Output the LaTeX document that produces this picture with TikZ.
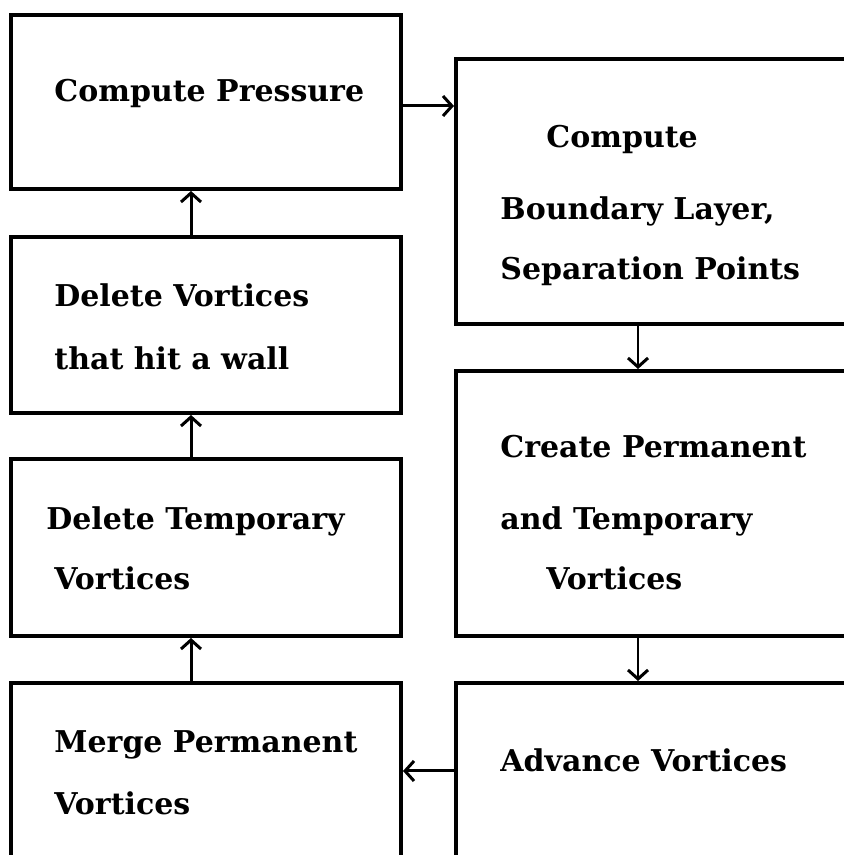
\documentclass[tikz,border=0pt]{standalone}
\usepackage{fontspec}
\setmainfont{DejaVu Serif}
\usetikzlibrary{arrows.meta}
\tikzset{
  box/.style={draw, line width=2pt, inner sep=0pt},
  txt/.style={anchor=base west, inner sep=0pt, font=\bfseries\fontsize{15}{15}\selectfont},
  flow/.style={line width=1.5pt, -{Straight Barb[length=4.5pt,width=10pt,line width=1.5pt]}},
  thinflow/.style={line width=1pt, -{Straight Barb[length=4.5pt,width=10pt,line width=1.5pt]}}
}

\begin{document}
\begin{tikzpicture}[x=0.5pt,y=0.5pt]
\useasboundingbox (0,0) rectangle (844,855);
\clip (0,0) rectangle (844,855);
% left column
\node[box, minimum width=195pt, minimum height=87pt] (press) at (206,753) {};
\node[box, minimum width=195pt, minimum height=88pt] (wall) at (206,530) {};
\node[box, minimum width=195pt, minimum height=88.5pt] (temp) at (206,307.5) {};
\node[box, minimum width=195pt, minimum height=122pt] (merge) at (206,50) {};
% right column
\node[box, minimum width=272pt, minimum height=132.5pt] (bound) at (728,663.5) {};
\node[box, minimum width=272pt, minimum height=132.5pt] (create) at (728,351.5) {};
\node[box, minimum width=272pt, minimum height=122pt] (advance) at (728,50) {};
% labels
\node[txt] (tpress) at (54,753) {Compute Pressure};
\node[txt] (tbound1) at (546,707) {Compute};
\node[txt] (tbound2) at (500,635) {Boundary Layer,};
\node[txt] (tbound3) at (500,575) {Separation Points};
\node[txt] (twall1) at (54,548) {Delete Vortices};
\node[txt] (twall2) at (54,485) {that hit a wall};
\node[txt] (tcreate1) at (500,397) {Create Permanent};
\node[txt] (tcreate2) at (500,325) {and Temporary};
\node[txt] (tcreate3) at (546,265) {Vortices};
\node[txt] (ttemp1) at (46,325) {Delete Temporary};
\node[txt] (ttemp2) at (54,265) {Vortices};
\node[txt] (tmerge1) at (54,102) {Merge Permanent};
\node[txt] (tmerge2) at (54,40) {Vortices};
\node[txt] (tadvance) at (500,83) {Advance Vortices};
% arrows
\draw[flow] ([yshift=-2pt]press.east) -- ([yshift=-2pt]press.east -| bound.west);
\draw[thinflow] ([xshift=-45pt]bound.south) -- ([xshift=-45pt]create.north);
\draw[thinflow] ([xshift=-45pt]create.south) -- ([xshift=-45pt]advance.north);
\draw[flow] ([yshift=17pt]advance.west) -- ([yshift=17pt]merge.east);
\draw[flow] ([xshift=-7.5pt]merge.north) -- ([xshift=-7.5pt]temp.south);
\draw[flow] ([xshift=-7.5pt]temp.north) -- ([xshift=-7.5pt]wall.south);
\draw[flow] ([xshift=-7.5pt]wall.north) -- ([xshift=-7.5pt]press.south);
\end{tikzpicture}
\end{document}
